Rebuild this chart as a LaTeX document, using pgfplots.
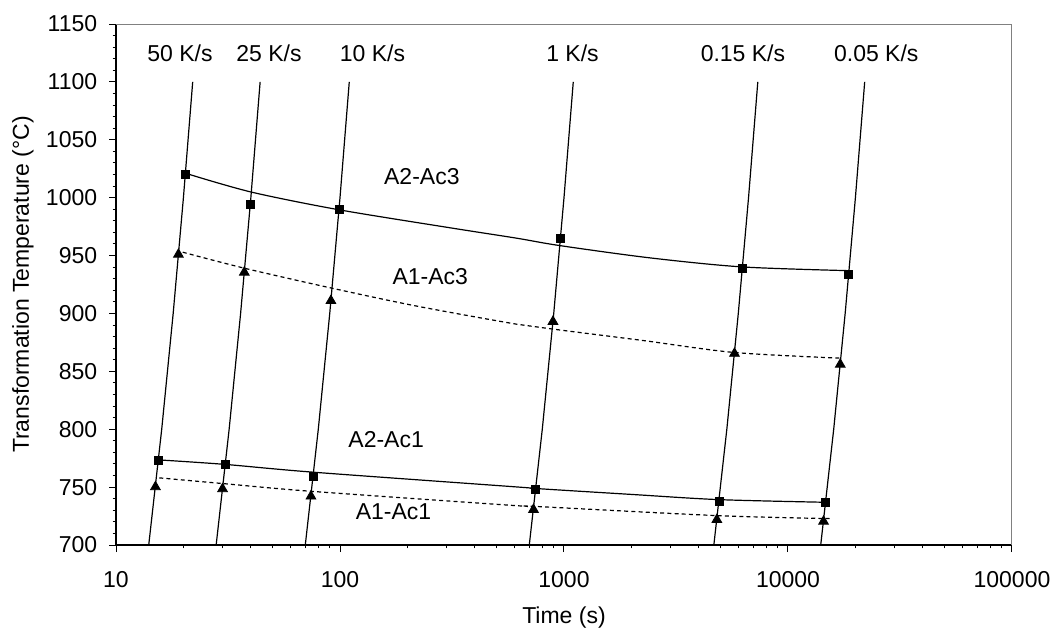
\documentclass[border=0pt]{standalone}
\usepackage{fontspec}
\setmainfont{Liberation Sans}
\usepackage{pgfplots}
\pgfplotsset{compat=1.18}
\newcommand\fs{\fontsize{11.5}{13.8}\selectfont}
\begin{document}
\begin{tikzpicture}
\path[use as bounding box] (-58pt,-42pt) rectangle (469.5pt,272.5pt);
\begin{axis}[
  at={(0,0)}, anchor=south west,
  scale only axis, width=448pt, height=260.5pt,
  xmode=log, xmin=10, xmax=100000, ymin=700, ymax=1150,
  axis x line*=bottom, axis y line*=left,
  axis line style={black, line width=0.6pt},
  tick align=outside,
  tick style={black, line width=0.5pt},
  major tick length=3.5pt, minor tick length=1.7pt,
  xtick={10,100,1000,10000,100000},
  xticklabels={10,100,1000,10000,100000},
  minor xtick={20,30,40,50,60,70,80,90,200,300,400,500,600,700,800,900,2000,3000,4000,5000,6000,7000,8000,9000,20000,30000,40000,50000,60000,70000,80000,90000},
  ytick={700,750,800,850,900,950,1000,1050,1100,1150},
  yticklabels={700,750,800,850,900,950,1000,1050,1100,1150},
  minor y tick num=4,
  xticklabel style={font=\fs, yshift=-6pt},
  yticklabel style={font=\fs, xshift=-2.4pt},
  xlabel={Time (s)},
  ylabel={Transformation Temperature (°C)},
  xlabel style={font=\fs, at={(axis description cs:0.5,-0.1401)}, anchor=center},
  ylabel style={font=\fs, at={(axis description cs:-0.1038,0.5)}, anchor=center},
]
% frame top/right
\draw[gray, line width=0.6pt] (rel axis cs:0,1) -- (rel axis cs:1,1) -- (rel axis cs:1,0);

% heating-rate lines
\addplot[black, line width=0.6pt, mark=none] coordinates {(14,700)(16,800)(18,900)(20,1000)(22,1100)};
\addplot[black, line width=0.6pt, mark=none] coordinates {(28,700)(32,800)(36,900)(40,1000)(44,1100)};
\addplot[black, line width=0.6pt, mark=none] coordinates {(70,700)(80,800)(90,900)(100,1000)(110,1100)};
\addplot[black, line width=0.6pt, mark=none] coordinates {(700,700)(800,800)(900,900)(1000,1000)(1100,1100)};
\addplot[black, line width=0.6pt, mark=none] coordinates {(4666.7,700)(5333.3,800)(6000,900)(6666.7,1000)(7333.3,1100)};
\addplot[black, line width=0.6pt, mark=none] coordinates {(14000,700)(16000,800)(18000,900)(20000,1000)(22000,1100)};

% A2-Ac3
\addplot[black, line width=0.6pt, mark=none, smooth] coordinates {(20.75,1020.7)(40.06,1004.9)(98.6,989.6)(309.7,974.0)(610.6,965.1)(959,958.6)(2421,948.0)(6233,940.2)(18338,937.0)};
% A1-Ac3
\addplot[black, line width=0.6pt, mark=none, smooth, dash pattern=on 2pt off 1.6pt] coordinates {(19.86,952.9)(37.4,939.1)(91.2,922.0)(218,906.5)(610.6,890.8)(890.7,886.5)(2259,876.6)(5754,866.3)(17060,861.4)};
% A2-Ac1
\addplot[black, line width=0.6pt, mark=none, smooth] coordinates {(16.16,773.3)(30.8,769.6)(75.9,762.9)(610.6,750.2)(748,748.8)(2037,743.6)(4917,739.2)(14728,736.9)};
% A1-Ac1
\addplot[black, line width=0.6pt, mark=none, smooth, dash pattern=on 2pt off 1.6pt] coordinates {(15.6,758.0)(29.9,753.1)(74.2,746.4)(610.6,734.0)(731,733.4)(4813,725.4)(15400,722.8)};

% markers
\addplot[only marks, mark=square*, mark size=2pt, black] coordinates {(20.4,1020)(39.8,994)(99,990)(965,965)(6257,938.5)(18666,933.3)};
\addplot[only marks, mark=triangle*, mark size=2.8pt, black] coordinates {(19.0,951)(37.4,935.5)(91.1,911)(893,893)(5769,865.4)(17118,856)};
\addplot[only marks, mark=square*, mark size=2pt, black] coordinates {(15.5,773.3)(30.8,769.6)(75.9,759.4)(748,748)(4917,737.5)(14728,736.4)};
\addplot[only marks, mark=triangle*, mark size=2.8pt, black] coordinates {(15.0,750.2)(29.9,748.5)(74.2,742.1)(731,730.6)(4813,721.9)(14409,720.4)};

% text
\node[font=\fs, inner sep=0] at (axis cs:19.3,1124.7) {50 K/s};
\node[font=\fs, inner sep=0] at (axis cs:48.2,1124.7) {25 K/s};
\node[font=\fs, inner sep=0] at (axis cs:139.6,1124.7) {10 K/s};
\node[font=\fs, inner sep=0] at (axis cs:1091,1124.7) {1 K/s};
\node[font=\fs, inner sep=0] at (axis cs:6295,1124.7) {0.15 K/s};
\node[font=\fs, inner sep=0] at (axis cs:24780,1124.7) {0.05 K/s};
\node[font=\fs, inner sep=0] at (axis cs:232,1017.9) {A2-Ac3};
\node[font=\fs, inner sep=0] at (axis cs:253,931.8) {A1-Ac3};
\node[font=\fs, inner sep=0] at (axis cs:160.7,791.2) {A2-Ac1};
\node[font=\fs, inner sep=0] at (axis cs:173.4,728.8) {A1-Ac1};
\end{axis}
\end{tikzpicture}
\end{document}
